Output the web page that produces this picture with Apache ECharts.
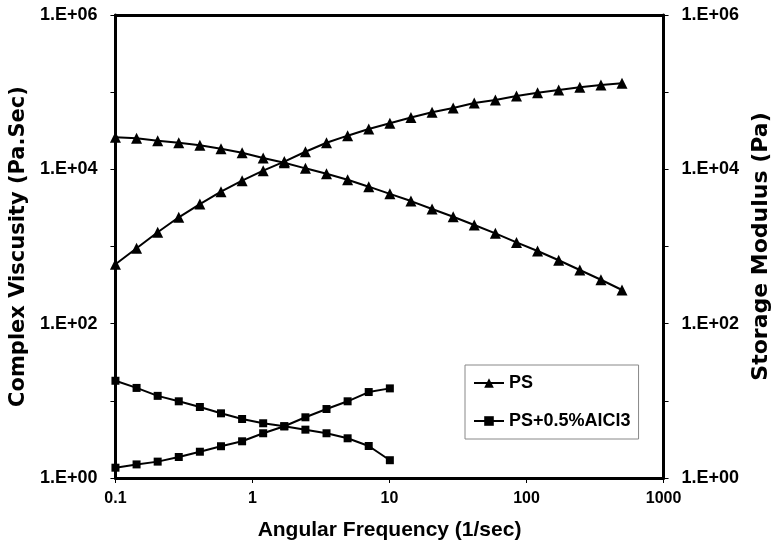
<!DOCTYPE html>
<html>
<head>
<meta charset="utf-8">
<script src="https://cdn.jsdelivr.net/npm/echarts@6/dist/echarts.min.js"></script>
<style>
html,body{margin:0;padding:0;background:#fff;}
#chart{width:780px;height:549px;}
</style>
</head>
<body>
<div id="chart"></div>
<script>
// Angular frequency (1/sec)
const frequency = [0.1, 0.1426, 0.2033, 0.2898, 0.4132, 0.589, 0.840, 1.197, 1.707, 2.434,
  3.470, 4.947, 7.053, 10.06, 14.34, 20.45, 29.15, 41.56, 59.26, 84.5,
  120.4, 171.7, 244.8, 349.1, 497.7];
// PS complex viscosity (Pa.Sec)
const psViscosity = [26000, 25200, 23500, 22100, 20500, 18500, 16400, 14000, 12200, 10300,
  8770, 7330, 5960, 4810, 3880, 3060, 2430, 1900, 1480, 1130,
  875, 663, 496, 371, 273];
// PS storage modulus (Pa)
const psModulus = [588, 948, 1530, 2390, 3550, 5130, 7120, 9600, 12600, 16900,
  22100, 27300, 33300, 39500, 46900, 54800, 62300, 72300, 79100, 89100,
  98300, 106600, 115600, 123900, 130200];
// PS+0.5%AlCl3 (first 14 frequencies)
const alViscosity = [18.2, 14.7, 11.6, 9.86, 8.32, 6.89, 5.82, 5.12, 4.68, 4.23, 3.80, 3.27, 2.60, 1.70];
const alModulus = [1.36, 1.50, 1.63, 1.87, 2.19, 2.58, 2.99, 3.80, 4.68, 6.12, 7.83, 9.86, 13.0, 14.5];

const seriesNames = ['PS', 'PS+0.5%AlCl3'];
const xTickLabels = ['0.1', '1', '10', '100', '1000'];
const yTickLabels = ['1.E+00', '', '1.E+02', '', '1.E+04', '', '1.E+06'];

function pairs(ys) { return ys.map((y, i) => [frequency[i], y]); }

const chart = echarts.init(document.getElementById('chart'), null, {renderer: 'canvas'});
const labelFont = {fontFamily: 'Liberation Sans, Arial, sans-serif', fontWeight: 'bold', color: '#000'};
const yLabelFmt = v => {
  const e = Math.round(Math.log10(v));
  return yTickLabels[e] !== undefined ? yTickLabels[e] : '';
};
const yBase = {
  type: 'log', logBase: 10, min: 1, max: 1e6, interval: 1,
  nameLocation: 'middle', nameRotate: 90,
  axisLine: {show: true, lineStyle: {color: '#000', width: 3}},
  axisTick: {show: true, inside: false, length: 5, lineStyle: {color: '#000', width: 1}},
  splitLine: {show: false},
  minorTick: {show: false}
};
const lineStyle = {color: '#000', width: 2};
const baseSeries = {type: 'line', smooth: false, color: '#000', lineStyle: lineStyle,
  itemStyle: {color: '#000'}, animation: false, emphasis: {disabled: true}};

chart.setOption({
  animation: false,
  backgroundColor: '#fff',
  grid: {left: 114, right: 110, top: 15, bottom: 71, containLabel: false},
  legend: {
    data: seriesNames,
    orient: 'vertical', left: 465, top: 365,
    padding: [9, 8, 9, 8], itemGap: 20, itemWidth: 30, itemHeight: 12,
    backgroundColor: '#fff', borderColor: '#888', borderWidth: 1,
    textStyle: {fontFamily: 'Liberation Sans, Arial, sans-serif', fontWeight: 'bold', fontSize: 18, color: '#000'}
  },
  xAxis: [{
    type: 'log', logBase: 10, min: 0.1, max: 1000, interval: 1,
    name: 'Angular Frequency (1/sec)', nameLocation: 'middle', nameGap: 42,
    nameTextStyle: Object.assign({fontSize: 21}, labelFont),
    axisLine: {show: true, onZero: false, lineStyle: {color: '#000', width: 3}},
    axisTick: {show: true, length: 5, lineStyle: {color: '#000', width: 1}},
    axisLabel: Object.assign({fontSize: 16, margin: 13, formatter: v => xTickLabels[Math.round(Math.log10(v)) + 1] || ''}, labelFont),
    splitLine: {show: false}
  }, {
    type: 'log', logBase: 10, min: 0.1, max: 1000, position: 'top',
    axisLine: {show: true, onZero: false, lineStyle: {color: '#000', width: 3}},
    axisTick: {show: false}, axisLabel: {show: false}, splitLine: {show: false}
  }],
  yAxis: [
    Object.assign({}, yBase, {
      position: 'left',
      name: 'Complex Viscusity (Pa.Sec)', nameGap: 82,
      nameTextStyle: {fontFamily: 'DejaVu Sans', fontWeight: 'bold', fontSize: 21, color: '#000'},
      axisLabel: Object.assign({fontSize: 18, margin: 18, formatter: yLabelFmt}, labelFont)
    }),
    Object.assign({}, yBase, {
      position: 'right',
      name: 'Storage Modulus (Pa)', nameGap: 86,
      nameTextStyle: {fontFamily: 'DejaVu Sans', fontWeight: 'bold', fontSize: 22, color: '#000'},
      axisLabel: Object.assign({fontSize: 18, margin: 18, formatter: yLabelFmt}, labelFont)
    })
  ],
  series: [
    Object.assign({}, baseSeries, {name: 'PS', yAxisIndex: 0, symbol: 'triangle', symbolSize: 11, data: pairs(psViscosity)}),
    Object.assign({}, baseSeries, {name: 'PS', yAxisIndex: 1, symbol: 'triangle', symbolSize: 11, data: pairs(psModulus)}),
    Object.assign({}, baseSeries, {name: 'PS+0.5%AlCl3', yAxisIndex: 0, symbol: 'rect', symbolSize: 8, data: pairs(alViscosity)}),
    Object.assign({}, baseSeries, {name: 'PS+0.5%AlCl3', yAxisIndex: 1, symbol: 'rect', symbolSize: 8, data: pairs(alModulus)})
  ]
});
</script>
</body>
</html>
